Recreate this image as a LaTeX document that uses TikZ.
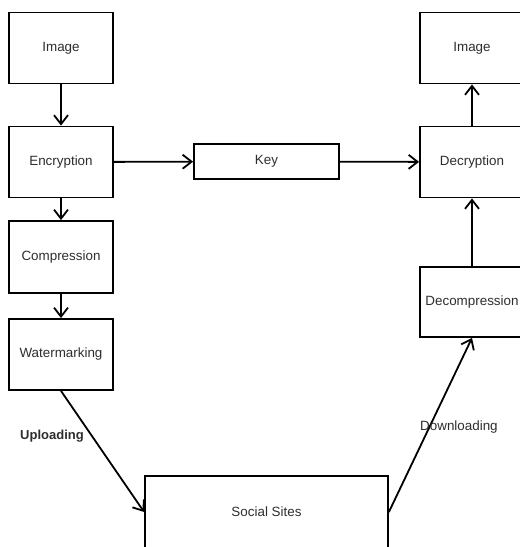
\documentclass[tikz,border=0pt]{standalone}
\usepackage{fontspec}
\setmainfont{Liberation Sans}
\usetikzlibrary{arrows.meta}
\definecolor{txt}{HTML}{2E2E2E}
\tikzset{
  box/.style={draw=black, line width=1.8pt, minimum width=104pt, minimum height=71pt, inner sep=0pt, text=txt, font=\fontsize{13.4}{15}\selectfont},
  conn/.style={line width=1.8pt, -{Straight Barb[length=9pt,width=14pt,line width=1.8pt]}},
  lbl/.style={text=txt, font=\fontsize{13.4}{15}\selectfont, inner sep=0pt}
}
\begin{document}
\begin{tikzpicture}[x=1pt,y=-1pt]
\clip (0,0) rectangle (520,547);
\fill[white] (0,0) rectangle (520,547);
\node[box] (img1) at (61,48) {Image};
\node[box] (enc) at (61,162) {Encryption};
\node[box, minimum height=72pt] (comp) at (61,257) {Compression};
\node[box] (wm) at (61,354.5) {Watermarking};
\node[box, minimum width=145pt, minimum height=35pt] (key) at (266.5,161.5) {Key};
\node[box] (img2) at (472,48) {Image};
\node[box] (dec) at (472,162) {Decryption};
\node[box, minimum height=70pt] (decomp) at (472,302) {Decompression};
\node[box, minimum width=243pt, minimum height=72pt] (ss) at (266.5,512) {Social Sites};
\draw[conn] (img1) -- (enc);
\draw[conn] (enc) -- (comp);
\draw[conn] (comp) -- (wm);
\draw[conn] (enc) -- (key);
\draw[conn] (key) -- (dec);
\draw[conn] (dec) -- (img2);
\draw[conn] (decomp) -- (dec);
\draw[conn] (wm.south) -- (ss.west);
\draw[conn] (ss.east) -- (decomp.south);
\node[lbl, font=\fontsize{13}{15}\selectfont\bfseries, anchor=west] (up) at (20,436) {Uploading};
\node[lbl, anchor=west] (down) at (420,427) {Downloading};
\end{tikzpicture}
\end{document}
